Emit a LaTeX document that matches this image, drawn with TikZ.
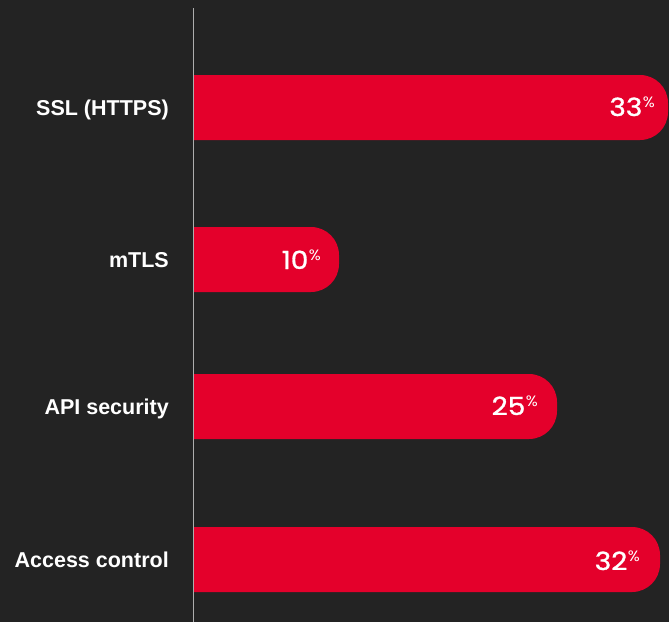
\documentclass[tikz,border=0pt]{standalone}
\usepackage{fontspec}
\setmainfont{Liberation Sans}
\newfontfamily\numfont[FakeStretch=1.12,FakeBold=1.2]{Poppins}
\newfontfamily\pctfont[FakeStretch=1.05]{Poppins}
\definecolor{bgdark}{HTML}{232323}
\definecolor{barred}{HTML}{E4002B}
\definecolor{axisgray}{HTML}{ADADAD}
\begin{document}
\begin{tikzpicture}[x=1pt,y=-1pt,
  catlabel/.style={anchor=base east, text=white, inner sep=0pt,
    font=\bfseries\fontsize{21.5}{24}\selectfont},
  pctvalue/.style={anchor=base east, text=white, inner sep=0pt,
    font=\numfont\fontsize{25}{28}\selectfont},
  barfill/.style={fill=barred, rounded corners=28pt}]
  % canvas
  \fill[bgdark] (0,0) rectangle (669,622);
  \useasboundingbox (0,0) rectangle (669,622);
  % bars: flat on the left, rounded on the right
  \begin{scope}
    \clip (194,0) rectangle (669,622);
    \fill[barfill] (140,75)  rectangle (668,140);
    \fill[barfill] (140,227) rectangle (339,292);
    \fill[barfill] (140,374) rectangle (557,439);
    \fill[barfill] (140,527) rectangle (660,592);
  \end{scope}
  % axis
  \coordinate (axtop) at (193.5,8);
  \coordinate (axbot) at (193.5,622);
  \draw[axisgray, line width=1.5pt] (axtop) -- (axbot);
  % category labels
  \node[catlabel] (l1) at (169,115) {SSL (HTTPS)};
  \node[catlabel] (l2) at (169,267) {mTLS};
  \node[catlabel] (l3) at (169,414) {API security};
  \node[catlabel] (l4) at (169,567) {Access control};
  % percentage values
  \newcommand{\pctsign}{\hspace{0.5pt}\raisebox{0.62ex}{\pctfont\fontsize{15}{16}\selectfont\%}}
  \node[pctvalue] (v1) at (655,116) {33\pctsign};
  \node[pctvalue] (v2) at (321,269) {10\pctsign};
  \node[pctvalue] (v3) at (538,415) {25\pctsign};
  \node[pctvalue] (v4) at (640,570) {32\pctsign};
\end{tikzpicture}
\end{document}
